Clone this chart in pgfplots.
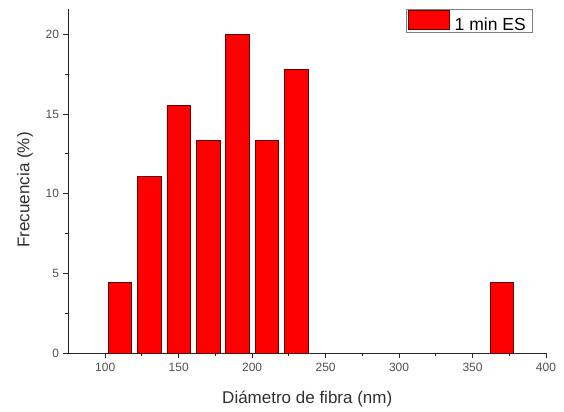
\documentclass[border=0pt]{standalone}
\usepackage{pgfplots}
\pgfplotsset{compat=1.18}
\usepackage{fontspec}
\setmainfont{Liberation Sans}
\definecolor{tickgray}{HTML}{505050}
\definecolor{labgray}{HTML}{303030}
\begin{document}
\begin{tikzpicture}
\begin{axis}[
  scale only axis,
  width=477.5bp, height=344bp,
  xmin=75, xmax=400, ymin=0, ymax=21.57,
  axis lines=left,
  axis line style={-, line width=1.2bp, draw=black!85},
  tick align=outside,
  major tick length=5bp, minor tick length=3bp,
  tick style={line width=1bp, black!85},
  xtick={100,150,...,400}, ytick={0,5,...,20},
  minor x tick num=1, minor y tick num=1,
  /pgf/number format/assume math mode=true,
  ticklabel style={font=\fontsize{12bp}{14bp}\selectfont, text=tickgray},
  xticklabel style={yshift=-1.5bp},
  yticklabel style={xshift=-1bp},
  xlabel={Diámetro de fibra (nm)}, ylabel={Frecuencia (\%)},
  label style={font=\fontsize{17bp}{20bp}\selectfont, text=labgray},
  xlabel style={at={(axis description cs:0.5,0)}, anchor=center, yshift=-46bp},
  ylabel style={at={(axis description cs:0,0.475)}, anchor=center, yshift=43.5bp},
  ybar, bar width=16,
  legend style={at={(rel axis cs:0.9728,1)}, anchor=north east,
    draw=gray, line width=0.6bp, inner xsep=2bp, inner ysep=0.3bp,
    font=\fontsize{17.5bp}{19bp}\selectfont, text=black,
    /tikz/every odd column/.append style={column sep=0pt},
    /tikz/every even column/.append style={column sep=0pt},
    nodes={inner xsep=0pt, inner ysep=0pt}},
  legend image code/.code={\draw[#1] (0bp,-3.8bp) rectangle (41bp,15.2bp);},
  clip=false,
]
\coordinate (bl) at (rel axis cs:0,0);
\coordinate (tr) at (rel axis cs:1,1);
\addplot[fill=red, draw=black!60!red, line width=0.6bp] coordinates {
  (110,4.444) (130,11.111) (150,15.556) (170,13.333) (190,20.0)
  (210,13.333) (230,17.778) (370,4.444)
};
\addlegendentry{\kern5bp 1 min ES\kern5bp}
\end{axis}
\pgfresetboundingbox
\path ([xshift=-68.5bp,yshift=-58.7bp]bl) rectangle ([xshift=18bp,yshift=9.3bp]tr);
\end{tikzpicture}
\end{document}
